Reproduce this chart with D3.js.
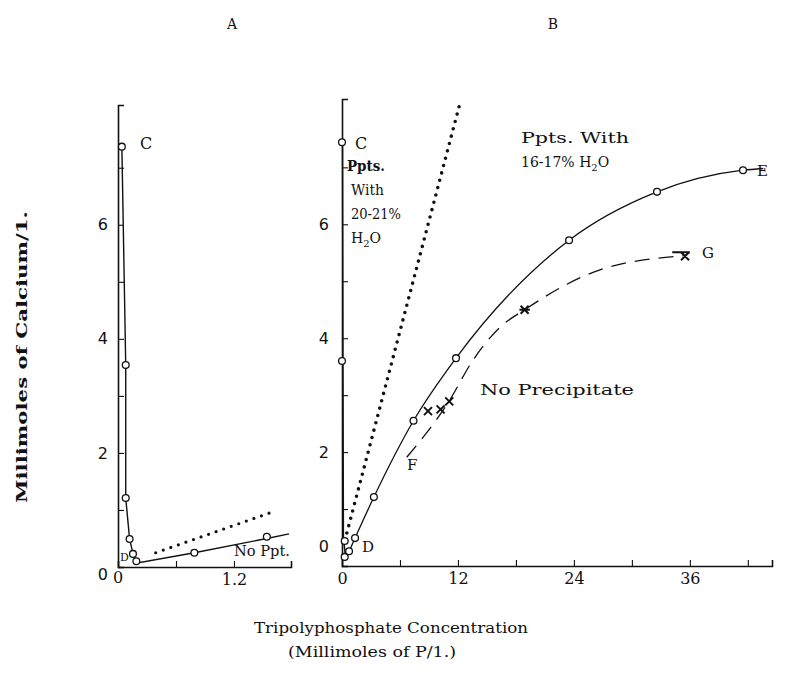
<!DOCTYPE html>
<html lang="en">
<head>
<meta charset="utf-8">
<title>Calcium vs tripolyphosphate</title>
<style>
  html, body { margin: 0; background: #fff; }
  svg { display: block; }
  text { font-family: "DejaVu Serif", "Liberation Serif", serif; fill: #111; }
  .tick text { font-family: "DejaVu Sans", sans-serif; }
</style>
<script src="https://d3js.org/d3.v7.min.js"></script>
</head>
<body>
<svg id="chart" width="792" height="689"></svg>
<script>
// ---- data (x = mmol P/l, y = mmol Ca/l) ----
// panel A, low concentration range
const aCircles = [[0.04, 7.37], [0.08, 3.54], [0.08, 1.21], [0.12, 0.49], [0.155, 0.23], [0.19, 0.1], [0.79, 0.25], [1.54, 0.53]];
const aSolid = [[0.04, 7.37], [0.08, 3.54], [0.08, 1.21], [0.12, 0.49], [0.16, 0.2], [0.2, 0.07], [0.79, 0.25], [1.54, 0.5], [1.77, 0.58]];
const aDotted = [[0.39, 0.25], [1.59, 0.96]];

// panel B, full range
const bCircles = [[0, 7.44], [0, 3.6], [0.28, 0.44], [0.28, 0.16], [0.73, 0.26], [1.35, 0.49], [3.3, 1.21], [7.4, 2.55], [11.8, 3.65], [23.5, 5.72], [32.6, 6.57], [41.5, 6.95]];
const bDescent = [[0.05, 7.44], [0.1, 3.6], [0.15, 0.5], [0.38, 0.12]];
const bSolid = [[0.38, 0.12], [1.35, 0.49], [3.3, 1.21], [7.4, 2.55], [11.8, 3.65], [23.5, 5.72], [32.6, 6.57], [41.5, 6.95], [43.6, 6.98]];
const bDotted = [[0.3, 0.45], [12.2, 8.12]];
const bDashed = [[6.7, 1.91], [11.1, 2.9], [13.5, 3.6], [16.4, 4.2], [18.9, 4.5], [26.7, 5.2], [35.5, 5.45]];
const bCrosses = [[8.9, 2.72], [10.2, 2.75], [11.1, 2.89]];
const bStars = [[18.9, 4.5]];
const bBarCross = [[35.5, 5.44]];

const yTicks = [0, 1, 2, 3, 4, 5, 6, 7];
const yLabels = [0, 2, 4, 6];
const aXTicks = [0, 0.6, 1.2];
const aXLabels = { 0: "0", 1.2: "1.2" };
const bXTicks = [0, 6, 12, 18, 24, 30, 36, 42];
const bXLabels = [0, 12, 24, 36];

const svg = d3.select("#chart");
const ink = "#111";

// scales
const xA = d3.scaleLinear().domain([0, 1.79]).range([118, 291]);
const yA = d3.scaleLinear().domain([0, 8.1]).range([567, 105]);
const xB = d3.scaleLinear().domain([0, 44.5]).range([342, 772]);
const yB = d3.scaleLinear().domain([0, 8.2]).range([566, 99]);

function drawAxes(x, y, xTicks, xFmt, yLabelOffset) {
  const g = svg.append("g");
  const gx = g.append("g").attr("transform", `translate(0,${y(0)})`)
    .call(d3.axisBottom(x).tickValues(xTicks).tickSize(-6).tickPadding(4).tickFormat(xFmt));
  gx.selectAll("text").style("font-size", "16px").attr("dy", "0.9em").style("font-family", "DejaVu Serif");
  const gy = g.append("g").attr("transform", `translate(${x(0)},0)`)
    .call(d3.axisLeft(y).tickValues(yTicks).tickSize(-6).tickPadding(yLabelOffset)
      .tickFormat(d => yLabels.includes(d) ? d : ""));
  gy.selectAll("text").style("font-size", "16px");
  g.selectAll(".domain").attr("stroke", ink).attr("stroke-width", 1.6);
  g.selectAll(".tick line").attr("stroke", ink).attr("stroke-width", 1.1);
  return { gx, gy };
}

const axA = drawAxes(xA, yA, aXTicks, d => aXLabels[d] || "", 10);
axA.gy.selectAll(".tick").filter(d => d === 0).select("text").attr("dy", "0.8em");
axA.gx.selectAll(".tick").filter(d => d === 0).select("text").text("");
const axB = drawAxes(xB, yB, bXTicks, d => bXLabels.includes(d) ? d : "", 13);
axB.gy.selectAll(".tick").filter(d => d === 0).select("text").attr("dy", "-0.9em");
// the "0" under the A corner
svg.append("text").attr("x", xA(0)).attr("y", 583).attr("text-anchor", "middle")
  .style("font-size", "16px").text("0");

// lines
function path(x, y, data, curve) {
  return d3.line().x(d => x(d[0])).y(d => y(d[1])).curve(curve || d3.curveLinear)(data);
}
svg.append("path").attr("d", path(xA, yA, aSolid)).attr("fill", "none").attr("stroke", ink).attr("stroke-width", 1.4);
svg.append("path").attr("d", path(xA, yA, aDotted)).attr("fill", "none").attr("stroke", ink)
  .attr("stroke-width", 3.2).attr("stroke-linecap", "round").attr("stroke-dasharray", "0 8");

svg.append("path").attr("d", path(xB, yB, bDescent)).attr("fill", "none").attr("stroke", ink).attr("stroke-width", 1.4);
svg.append("path").attr("d", path(xB, yB, bSolid, d3.curveMonotoneX)).attr("fill", "none").attr("stroke", ink).attr("stroke-width", 1.3);
svg.append("path").attr("d", path(xB, yB, bDotted)).attr("fill", "none").attr("stroke", ink)
  .attr("stroke-width", 3.6).attr("stroke-linecap", "round").attr("stroke-dasharray", "0 7.6");
svg.append("path").attr("d", path(xB, yB, bDashed, d3.curveMonotoneX)).attr("fill", "none").attr("stroke", ink)
  .attr("stroke-width", 1.3).attr("stroke-dasharray", "15 9");

// markers
function circles(x, y, data, r) {
  svg.append("g").selectAll("circle").data(data).join("circle")
    .attr("cx", d => x(d[0])).attr("cy", d => y(d[1])).attr("r", r)
    .attr("fill", "#fff").attr("stroke", ink).attr("stroke-width", 1.3);
}
circles(xA, yA, aCircles, 3.4);
circles(xB, yB, bCircles, 3.4);

function crossPath(s, bar, star) {
  let p = `M${-s},${-s}L${s},${s}M${s},${-s}L${-s},${s}`;
  if (bar) p += `M${-s * 3.2},${-s}L${s * 1.2},${-s}`;
  if (star) p += `M${-s * 1.3},0L${s * 1.3},0`;
  return p;
}
function crosses(data, bar, star) {
  svg.append("g").selectAll("path").data(data).join("path")
    .attr("transform", d => `translate(${xB(d[0])},${yB(d[1])})`)
    .attr("d", crossPath(4, bar, star)).attr("fill", "none")
    .attr("stroke", ink).attr("stroke-width", 2);
}
crosses(bCrosses, false, false);
crosses(bStars, false, true);
crosses(bBarCross, true, false);

// labels
function label(t, x, y, size, opts = {}) {
  const el = svg.append("text").attr("x", x).attr("y", y).style("font-size", size + "px").text(t);
  if (opts.w) el.attr("textLength", opts.w).attr("lengthAdjust", "spacingAndGlyphs");
  if (opts.bold) el.style("font-weight", "bold");
  if (opts.anchor) el.attr("text-anchor", opts.anchor);
  return el;
}
function h2o(el) {
  el.text("H");
  el.append("tspan").attr("dy", 4).style("font-size", "10px").text("2");
  el.append("tspan").attr("dy", -4).text("O");
}

label("A", 232, 29, 14, { anchor: "middle" });
label("B", 553, 29, 14, { anchor: "middle" });

label("C", 140, 149, 16);
label("No Ppt.", 234, 556, 14, { w: 56 });
label("D", 120, 561, 11);

label("C", 355, 149, 16);
label("Ppts.", 347, 171, 14, { bold: true, w: 38 });
label("With", 351, 195, 14, { w: 33 });
label("20-21%", 351, 219, 14, { w: 50 });
h2o(label("", 351, 243, 14));

label("Ppts. With", 521, 143, 14, { w: 108 });
const l2 = label("16-17% ", 521, 167, 14);
l2.append("tspan").text("H");
l2.append("tspan").attr("dy", 4).style("font-size", "10px").text("2");
l2.append("tspan").attr("dy", -4).text("O");

label("E", 757, 176, 15);
label("G", 702, 258, 15);
label("No Precipitate", 480, 395, 15, { w: 154 });
label("F", 407, 470, 15);
label("D", 362, 552, 15);

// axis titles
svg.append("text").attr("transform", "translate(27,357) rotate(-90)")
  .attr("text-anchor", "middle").style("font-size", "15px").style("font-weight", "bold")
  .attr("textLength", 292).attr("lengthAdjust", "spacingAndGlyphs")
  .text("Millimoles of Calcium/1.");
label("Tripolyphosphate Concentration", 254, 633, 14, { w: 274 });
label("(Millimoles of P/1.)", 288, 657, 14, { w: 168 });
</script>
</body>
</html>
